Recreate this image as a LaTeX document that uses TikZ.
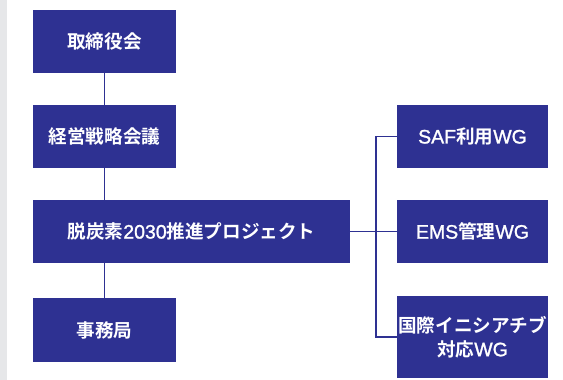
\documentclass[tikz,border=0pt]{standalone}
\usepackage{fontspec}
\newfontfamily\jpfont{Noto Sans CJK JP}[BoldFont={* Bold}]
\newfontfamily\latfont{Liberation Sans}[FakeBold=1.3]
\newcommand{\lat}[1]{{\latfont\mdseries\fontsize{19.5}{24}\selectfont #1}}
\usepackage{tikz}
\usetikzlibrary{calc,positioning}

\definecolor{orgblue}{HTML}{2E3192}
\definecolor{stripgray}{HTML}{E6E7E9}

\begin{document}
\begin{tikzpicture}[x=1pt, y=-1pt,
    orgbox/.style={fill=orgblue, text=white, inner sep=0pt, align=center,
        font=\jpfont\bfseries\fontsize{18.6}{24}\selectfont, minimum height=63pt},
    link/.style={draw=orgblue, line width=1.4pt}]

    %% Background
    \useasboundingbox (0,0) rectangle (563,380);
    \fill[white] (0,0) rectangle (563,380);
    \fill[stripgray] (0,0) rectangle (7,380);

    % Main column
    \node[orgbox, minimum width=143pt] (board) at (104.5,41.5) {取締役会};
    \node[orgbox, minimum width=143pt] (council) at (104.5,136.5) {経営戦略会議};
    \node[orgbox, minimum width=317pt] (project) at (191.5,231.5) {脱炭素\lat{2030}推進プロジェクト};
    \node[orgbox, minimum width=143pt, minimum height=64pt] (office) at (104.5,330) {事務局};

    % Working groups
    \node[orgbox, minimum width=151pt] (saf) at (472.5,136.5) {\lat{SAF}利用\lat{WG}};
    \node[orgbox, minimum width=151pt] (ems) at (472.5,231.5) {\lat{EMS}管理\lat{WG}};
    \node[orgbox, minimum width=151pt, minimum height=82pt] (intl) at (472.5,337)
        {国際イニシアチブ\\対応\lat{WG}};

    %Connectors
    \draw[link] (board.south -| 104.5,0) -- (council.north -| 104.5,0);
    \draw[link] (council.south -| 104.5,0) -- (project.north -| 104.5,0);
    \draw[link] (project.south -| 104.5,0) -- (office.north -| 104.5,0);

    \coordinate (bus) at (376,231.5);
    \draw[link] (project.east) -- (ems.west);
    \draw[link] (saf.west) -| (bus) |- (intl.west);

\end{tikzpicture}
\end{document}
